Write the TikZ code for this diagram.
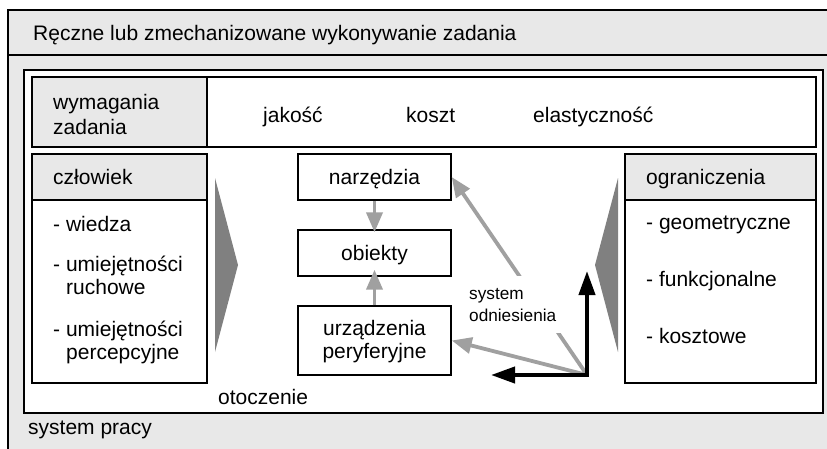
\documentclass[tikz,border=0pt]{standalone}
\usepackage{fontspec}
\setmainfont{Liberation Sans}
\usetikzlibrary{arrows.meta}
\definecolor{panelgray}{HTML}{E8E8E8}
\definecolor{arrowgray}{HTML}{A0A0A0}
\definecolor{wedgegray}{HTML}{808080}

\begin{document}
\begin{tikzpicture}[x=1pt,y=-1pt,
  every node/.style={inner sep=0pt, font=\fontsize{21}{24}\selectfont},
  frame/.style={draw=black, line width=1.8pt},
  box/.style={draw=black, line width=1.4pt, rectangle},
  headbox/.style={box, fill=panelgray},
  bodybox/.style={box, fill=white},
  txt/.style={anchor=base west},
  ctxt/.style={anchor=base},
  smalltxt/.style={font=\fontsize{17.2}{22}\selectfont},
  garrow/.style={draw=arrowgray, line width=3.8pt,
    -{Triangle[length=20pt,width=16pt]}},
  barrow/.style={draw=black, line width=4pt,
    {Triangle[length=24pt,width=16pt]}-{Triangle[length=24pt,width=16pt]}},
  wedge/.style={fill=wedgegray, draw=none}
]
\useasboundingbox (0,0) rectangle (827,448);
\clip (0,0) rectangle (827,448);

% work system: grey frame with the task header
\fill[panelgray] (8,10) rectangle (840,460);
\draw[frame] (840,10) -- (8,10) -- (8,460);
\draw[frame] (8,55) -- (840,55);
\node[txt] (task) at (33,40) {Ręczne lub zmechanizowane wykonywanie zadania};

% environment
\node[frame, fill=white, rectangle, minimum width=799pt, minimum height=343pt,
  inner sep=0pt] (env) at (423.5,241.5) {};
\node[txt] (envlabel) at (218,404) {otoczenie};
\node[txt] (worklabel) at (28,434) {system pracy};

% task requirements row
\node[headbox, minimum width=175pt, minimum height=70pt] (req) at (119.5,112) {};
\node[bodybox, minimum width=609pt, minimum height=70pt] (reqbody) at (511.5,112) {};
\node[txt] (req1) at (53,109) {wymagania};
\node[txt] (req2) at (53,134) {zadania};
\node[txt] (q1) at (263,122) {jakość};
\node[txt] (q2) at (406,122) {koszt};
\node[txt] (q3) at (533,122) {elastyczność};

% human
\node[bodybox, minimum width=175pt, minimum height=229pt] (man) at (119.5,268.5) {};
\node[headbox, minimum width=175pt, minimum height=46pt] (manhead) at (119.5,177) {};
\node[txt] (manlabel) at (53,184) {człowiek};
\node[txt] (m1) at (53,231) {- wiedza};
\node[txt] (m2) at (53,271) {- umiejętności};
\node[txt] (m2b) at (66,294) {ruchowe};
\node[txt] (m3) at (53,336) {- umiejętności};
\node[txt] (m3b) at (66,359) {percepcyjne};

% constraints
\node[bodybox, minimum width=191pt, minimum height=229pt] (lim) at (720.5,268.5) {};
\node[headbox, minimum width=191pt, minimum height=46pt] (limhead) at (720.5,177) {};
\node[txt] (limlabel) at (646,184) {ograniczenia};
\node[txt] (l1) at (646,229) {- geometryczne};
\node[txt] (l2) at (646,286) {- funkcjonalne};
\node[txt] (l3) at (646,343) {- kosztowe};

% wedges towards the centre
\fill[wedge] (215,178) -- (238,265) -- (215,352) -- cycle;
\fill[wedge] (618,178) -- (595,265) -- (618,352) -- cycle;

% central elements
\node[bodybox, minimum width=153pt, minimum height=46pt] (tools) at (374.5,177) {};
\node[ctxt] at (374.5,184) {narzędzia};
\node[bodybox, minimum width=153pt, minimum height=46pt] (obj) at (374.5,253) {};
\node[ctxt] at (374.5,260) {obiekty};
\node[bodybox, minimum width=153pt, minimum height=69pt] (dev) at (374.5,340.5) {};
\node[ctxt] at (374.5,335) {urządzenia};
\node[ctxt] at (374.5,358) {peryferyjne};

\draw[garrow, shorten >=-3pt] (tools) -- (obj);
\draw[garrow, shorten >=-7pt] (dev) -- (obj);

% reference system
\coordinate (o) at (587,375);
\coordinate (xend) at (491,375);
\coordinate (yend) at (587,271);
\draw[garrow] (o) -- (tools.east);
\node[smalltxt, fill=white, inner xsep=10pt, inner ysep=12pt, align=left,
  anchor=north west] (refsys) at (459,276) {system\\odniesienia};
\draw[garrow] (o) -- (dev.east);
\draw[barrow] (xend) -- (o) -- (yend);
\end{tikzpicture}
\end{document}
